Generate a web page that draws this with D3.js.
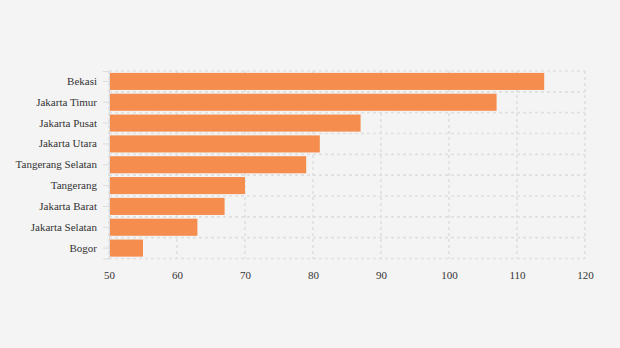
<!DOCTYPE html>
<html><head><meta charset="utf-8">
<script src="https://cdn.jsdelivr.net/npm/d3@7"></script>
<style>
html,body{margin:0;padding:0;background:#f4f4f4;}
svg{display:block;}
text{font-family:"Liberation Serif","Times New Roman",serif;}
</style></head>
<body>
<script>
const categories = ["Bekasi","Jakarta Timur","Jakarta Pusat","Jakarta Utara","Tangerang Selatan","Tangerang","Jakarta Barat","Jakarta Selatan","Bogor"];
const values = [114,107,87,81,79,70,67,63,55];
const xTicks = [50,60,70,80,90,100,110,120];

const W=620,H=348;
const svg=d3.select("body").append("svg").attr("width",W).attr("height",H);
svg.append("rect").attr("width",W).attr("height",H).attr("fill","#f4f4f4");

const x=d3.scaleLinear().domain([50,120]).range([109,585]);
const y=d3.scaleBand().domain(categories).range([71,258.5]).paddingInner(0.18).paddingOuter(0.09);

const grid=svg.append("g");
// horizontal grid lines at band boundaries
const bounds=d3.range(categories.length+1).map(i=>y.range()[0]+i*y.step());
grid.selectAll("line.h").data(bounds).enter().append("line")
  .attr("x1",x(50)).attr("x2",x(120)).attr("y1",d=>d).attr("y2",d=>d)
  .attr("stroke","#dfdfdf").attr("stroke-width",1.6).attr("stroke-dasharray","3,3");
grid.selectAll("line.v").data(xTicks).enter().append("line")
  .attr("x1",d=>x(d)).attr("x2",d=>x(d)).attr("y1",y.range()[0]).attr("y2",y.range()[1])
  .attr("stroke","#dfdfdf").attr("stroke-width",1.6).attr("stroke-dasharray","3,3");

svg.selectAll("rect.bar").data(categories).enter().append("rect")
  .attr("x",x(50)).attr("y",d=>y(d)).attr("height",y.bandwidth())
  .attr("width",(d,i)=>x(values[i])-x(50)).attr("fill","#f58d4e");

// y axis
const ya=svg.append("g").attr("transform",`translate(${x(50)},0)`)
  .call(d3.axisLeft(y).tickSize(6).tickPadding(6));
ya.select(".domain").attr("stroke","#dcdcdc");
ya.selectAll(".tick line").attr("stroke","#dcdcdc");
ya.selectAll("text").attr("font-size",11).attr("fill","#333").attr("font-family","Liberation Serif, serif");

// x axis
const xa=svg.append("g").attr("transform",`translate(0,${y.range()[1]})`)
  .call(d3.axisBottom(x).tickValues(xTicks).tickSize(0).tickPadding(13));
xa.select(".domain").remove();
xa.selectAll("text").attr("font-size",11).attr("fill","#333").attr("font-family","Liberation Serif, serif");
</script>
</body></html>
